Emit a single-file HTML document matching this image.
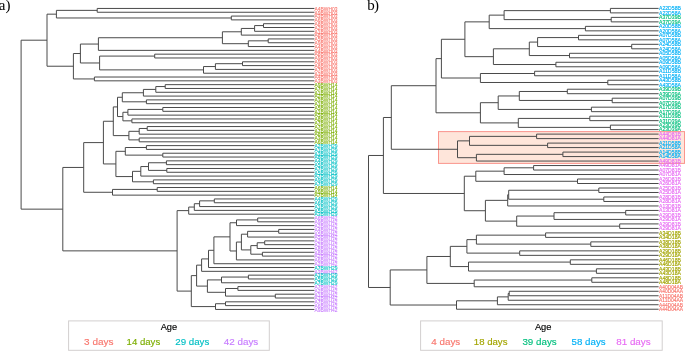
<!DOCTYPE html>
<html><head><meta charset="utf-8"><style>
html,body{margin:0;padding:0;background:#fff;}
body{width:685px;height:351px;overflow:hidden;position:relative;font-family:"Liberation Sans",sans-serif;}
svg{position:absolute;left:0;top:0;will-change:transform;}
.ll{font-family:"Liberation Sans",sans-serif;font-size:5.9px;font-weight:normal;stroke-width:0.12px;}
.rl{font-family:"Liberation Sans",sans-serif;font-size:5.2px;font-weight:normal;stroke-width:0.15px;}
.pl{font-family:"Liberation Serif",serif;font-size:15px;fill:#000;}
.lg{font-family:"Liberation Sans",sans-serif;font-size:9.5px;stroke-width:0.15px;paint-order:stroke;}
</style></head><body>
<svg width="685" height="351" viewBox="0 0 685 351">
<rect x="438.5" y="131.6" width="246.0" height="31.8" fill="#FEE5DA" stroke="rgba(248,118,109,0.75)" stroke-width="1.0"/>
<path d="M314.40 8.45L97.20 8.45L97.20 12.26L314.40 12.26M314.40 16.07L231.30 16.07L231.30 19.88L314.40 19.88M97.20 10.36L56.40 10.36L56.40 17.98L231.30 17.98M314.40 23.69L263.50 23.69L263.50 27.50L314.40 27.50M263.50 25.59L254.60 25.59L254.60 31.31L314.40 31.31M254.60 28.45L241.30 28.45L241.30 35.12L314.40 35.12M314.40 38.93L268.20 38.93L268.20 42.74L314.40 42.74M268.20 40.83L248.30 40.83L248.30 46.55L314.40 46.55M241.30 31.79L222.40 31.79L222.40 43.69L248.30 43.69M222.40 37.74L98.40 37.74L98.40 50.36L314.40 50.36M314.40 54.17L154.70 54.17L154.70 57.98L314.40 57.98M314.40 61.79L242.50 61.79L242.50 65.60L314.40 65.60M242.50 63.70L215.40 63.70L215.40 69.41L314.40 69.41M215.40 66.55L203.50 66.55L203.50 73.22L314.40 73.22M154.70 56.08L99.60 56.08L99.60 69.89L203.50 69.89M98.40 44.05L80.40 44.05L80.40 62.98L99.60 62.98M314.40 77.03L94.40 77.03L94.40 80.84L314.40 80.84M80.40 53.52L73.40 53.52L73.40 78.94L94.40 78.94M56.40 14.17L47.00 14.17L47.00 66.23L73.40 66.23M314.40 84.65L165.20 84.65L165.20 88.46L314.40 88.46M165.20 86.56L155.80 86.56L155.80 92.27L314.40 92.27M155.80 89.41L143.40 89.41L143.40 96.08L314.40 96.08M314.40 99.89L146.40 99.89L146.40 103.70L314.40 103.70M143.40 92.75L122.30 92.75L122.30 101.80L146.40 101.80M314.40 107.51L162.80 107.51L162.80 111.32L314.40 111.32M162.80 109.42L127.90 109.42L127.90 115.13L314.40 115.13M314.40 118.94L131.90 118.94L131.90 122.75L314.40 122.75M127.90 112.27L122.90 112.27L122.90 120.84L131.90 120.84M122.30 97.27L117.50 97.27L117.50 116.56L122.90 116.56M314.40 126.56L147.20 126.56L147.20 130.37L314.40 130.37M147.20 128.47L139.20 128.47L139.20 134.18L314.40 134.18M314.40 137.99L139.20 137.99L139.20 141.80L314.40 141.80M139.20 131.32L128.90 131.32L128.90 139.89L139.20 139.89M117.50 106.91L113.30 106.91L113.30 135.61L128.90 135.61M314.40 145.61L146.40 145.61L146.40 149.42L314.40 149.42M314.40 153.23L162.80 153.23L162.80 157.04L314.40 157.04M146.40 147.51L125.30 147.51L125.30 155.13L162.80 155.13M314.40 160.85L166.40 160.85L166.40 164.66L314.40 164.66M314.40 168.47L166.80 168.47L166.80 172.28L314.40 172.28M166.40 162.75L148.50 162.75L148.50 170.38L166.80 170.38M148.50 166.56L140.80 166.56L140.80 176.09L314.40 176.09M314.40 179.90L153.40 179.90L153.40 183.71L314.40 183.71M140.80 171.33L132.50 171.33L132.50 181.80L153.40 181.80M125.30 151.32L115.90 151.32L115.90 176.57L132.50 176.57M113.30 121.26L103.40 121.26L103.40 163.95L115.90 163.95M314.40 187.52L157.20 187.52L157.20 191.33L314.40 191.33M157.20 189.42L112.50 189.42L112.50 195.14L314.40 195.14M103.40 142.60L83.70 142.60L83.70 192.28L112.50 192.28M314.40 198.95L214.30 198.95L214.30 202.76L314.40 202.76M214.30 200.85L199.60 200.85L199.60 206.57L314.40 206.57M199.60 203.71L194.30 203.71L194.30 210.38L314.40 210.38M194.30 207.05L188.70 207.05L188.70 214.19L314.40 214.19M314.40 218.00L257.70 218.00L257.70 221.81L314.40 221.81M257.70 219.91L236.50 219.91L236.50 225.62L314.40 225.62M314.40 229.43L278.70 229.43L278.70 233.24L314.40 233.24M278.70 231.33L247.60 231.33L247.60 237.05L314.40 237.05M314.40 240.86L264.70 240.86L264.70 244.67L314.40 244.67M264.70 242.76L257.20 242.76L257.20 248.48L314.40 248.48M314.40 252.29L262.40 252.29L262.40 256.10L314.40 256.10M257.20 245.62L250.80 245.62L250.80 254.19L262.40 254.19M247.60 234.19L241.40 234.19L241.40 249.91L250.80 249.91M241.40 242.05L236.40 242.05L236.40 259.91L314.40 259.91M236.50 222.76L230.00 222.76L230.00 250.98L236.40 250.98M230.00 236.87L213.90 236.87L213.90 263.72L314.40 263.72M213.90 250.30L208.50 250.30L208.50 267.53L314.40 267.53M208.50 258.91L201.60 258.91L201.60 271.34L314.40 271.34M314.40 275.15L248.40 275.15L248.40 278.96L314.40 278.96M248.40 277.05L221.50 277.05L221.50 282.77L314.40 282.77M314.40 286.58L237.90 286.58L237.90 290.39L314.40 290.39M314.40 294.20L275.30 294.20L275.30 298.01L314.40 298.01M237.90 288.49L225.50 288.49L225.50 296.11L275.30 296.11M221.50 279.91L207.40 279.91L207.40 292.30L225.50 292.30M201.60 265.13L196.60 265.13L196.60 286.10L207.40 286.10M314.40 301.82L225.50 301.82L225.50 305.63L314.40 305.63M225.50 303.73L215.50 303.73L215.50 309.44L314.40 309.44M196.60 275.62L191.30 275.62L191.30 306.58L215.50 306.58M188.70 210.62L177.10 210.62L177.10 291.10L191.30 291.10M83.70 167.44L62.80 167.44L62.80 250.86L177.10 250.86M47.00 40.20L21.10 40.20L21.10 209.15L62.80 209.15" stroke="#4a4a4a" stroke-width="1.0" fill="none" stroke-linecap="butt" stroke-linejoin="miter"/>
<path d="M658.60 8.40L610.40 8.40L610.40 12.89L658.60 12.89M658.60 17.38L611.20 17.38L611.20 21.87L658.60 21.87M610.40 10.64L504.10 10.64L504.10 19.62L611.20 19.62M658.60 26.36L585.40 26.36L585.40 30.85L658.60 30.85M504.10 15.13L489.20 15.13L489.20 28.61L585.40 28.61M658.60 35.34L578.50 35.34L578.50 39.83L658.60 39.83M658.60 44.32L631.70 44.32L631.70 48.81L658.60 48.81M578.50 37.59L537.60 37.59L537.60 46.56L631.70 46.56M658.60 53.30L569.50 53.30L569.50 57.79L658.60 57.79M537.60 42.08L529.30 42.08L529.30 55.55L569.50 55.55M658.60 62.28L555.90 62.28L555.90 66.77L658.60 66.77M529.30 48.81L493.40 48.81L493.40 64.53L555.90 64.53M489.20 21.87L464.90 21.87L464.90 56.67L493.40 56.67M658.60 71.26L534.60 71.26L534.60 75.75L658.60 75.75M658.60 80.24L607.80 80.24L607.80 84.73L658.60 84.73M534.60 73.51L480.40 73.51L480.40 82.49L607.80 82.49M464.90 39.27L441.40 39.27L441.40 78.00L480.40 78.00M658.60 89.22L567.30 89.22L567.30 93.71L658.60 93.71M658.60 98.20L612.20 98.20L612.20 102.69L658.60 102.69M567.30 91.47L519.30 91.47L519.30 100.45L612.20 100.45M658.60 107.18L591.40 107.18L591.40 111.67L658.60 111.67M519.30 95.96L498.20 95.96L498.20 109.43L591.40 109.43M658.60 116.16L589.80 116.16L589.80 120.65L658.60 120.65M658.60 125.14L610.40 125.14L610.40 129.63L658.60 129.63M589.80 118.41L518.30 118.41L518.30 127.39L610.40 127.39M498.20 102.69L480.40 102.69L480.40 122.90L518.30 122.90M441.40 58.63L436.00 58.63L436.00 112.79L480.40 112.79M658.60 134.12L536.60 134.12L536.60 138.61L658.60 138.61M658.60 143.10L547.60 143.10L547.60 147.59L658.60 147.59M536.60 136.37L469.50 136.37L469.50 145.35L547.60 145.35M658.60 152.08L562.90 152.08L562.90 156.57L658.60 156.57M562.90 154.33L476.40 154.33L476.40 161.06L658.60 161.06M469.50 140.86L457.50 140.86L457.50 157.69L476.40 157.69M436.00 85.71L391.30 85.71L391.30 149.27L457.50 149.27M658.60 165.55L533.60 165.55L533.60 170.04L658.60 170.04M533.60 167.80L504.10 167.80L504.10 174.53L658.60 174.53M658.60 179.02L577.50 179.02L577.50 183.51L658.60 183.51M504.10 171.16L475.80 171.16L475.80 181.27L577.50 181.27M658.60 188.00L598.80 188.00L598.80 192.49L658.60 192.49M658.60 196.98L603.80 196.98L603.80 201.47L658.60 201.47M598.80 190.25L508.70 190.25L508.70 199.23L603.80 199.23M508.70 194.74L507.70 194.74L507.70 205.96L658.60 205.96M658.60 210.45L625.70 210.45L625.70 214.94L658.60 214.94M625.70 212.70L554.00 212.70L554.00 219.43L658.60 219.43M658.60 223.92L619.70 223.92L619.70 228.41L658.60 228.41M554.00 216.06L516.70 216.06L516.70 226.17L619.70 226.17M507.70 200.35L485.40 200.35L485.40 221.11L516.70 221.11M475.80 176.21L464.30 176.21L464.30 210.73L485.40 210.73M391.30 117.49L383.40 117.49L383.40 193.47L464.30 193.47M658.60 232.90L545.60 232.90L545.60 237.39L658.60 237.39M658.60 241.88L590.80 241.88L590.80 246.37L658.60 246.37M545.60 235.15L476.40 235.15L476.40 244.12L590.80 244.12M658.60 250.86L519.70 250.86L519.70 255.35L658.60 255.35M476.40 239.63L466.90 239.63L466.90 253.11L519.70 253.11M658.60 259.84L570.30 259.84L570.30 264.33L658.60 264.33M658.60 268.82L596.40 268.82L596.40 273.31L658.60 273.31M570.30 262.08L468.50 262.08L468.50 271.06L596.40 271.06M466.90 246.37L450.30 246.37L450.30 266.57L468.50 266.57M658.60 277.80L591.80 277.80L591.80 282.29L658.60 282.29M591.80 280.04L474.20 280.04L474.20 286.78L658.60 286.78M450.30 256.47L426.90 256.47L426.90 283.41L474.20 283.41M658.60 291.27L509.20 291.27L509.20 295.76L658.60 295.76M509.20 293.51L508.20 293.51L508.20 300.25L658.60 300.25M508.20 296.88L497.40 296.88L497.40 304.74L658.60 304.74M497.40 300.81L456.50 300.81L456.50 309.23L658.60 309.23M426.90 269.94L390.20 269.94L390.20 305.02L456.50 305.02M383.40 155.48L368.50 155.48L368.50 287.48L390.20 287.48" stroke="#4a4a4a" stroke-width="1.0" fill="none" stroke-linecap="butt" stroke-linejoin="miter"/>
<text x="314.60" y="10.75" fill="#F8766D" class="ll" stroke="#F8766D" textLength="22.9" lengthAdjust="spacingAndGlyphs">A4BWH03</text>
<text x="314.60" y="14.56" fill="#F8766D" class="ll" stroke="#F8766D" textLength="22.9" lengthAdjust="spacingAndGlyphs">A9BWH03</text>
<text x="314.60" y="18.37" fill="#F8766D" class="ll" stroke="#F8766D" textLength="22.9" lengthAdjust="spacingAndGlyphs">A3BWH03</text>
<text x="314.60" y="22.18" fill="#F8766D" class="ll" stroke="#F8766D" textLength="22.9" lengthAdjust="spacingAndGlyphs">A6BWH03</text>
<text x="314.60" y="25.99" fill="#F8766D" class="ll" stroke="#F8766D" textLength="22.9" lengthAdjust="spacingAndGlyphs">A8BWH03</text>
<text x="314.60" y="29.80" fill="#F8766D" class="ll" stroke="#F8766D" textLength="22.9" lengthAdjust="spacingAndGlyphs">A2BWH03</text>
<text x="314.60" y="33.61" fill="#F8766D" class="ll" stroke="#F8766D" textLength="22.9" lengthAdjust="spacingAndGlyphs">A1BWH03</text>
<text x="314.60" y="37.42" fill="#F8766D" class="ll" stroke="#F8766D" textLength="22.9" lengthAdjust="spacingAndGlyphs">A8BWH03</text>
<text x="314.60" y="41.23" fill="#F8766D" class="ll" stroke="#F8766D" textLength="22.9" lengthAdjust="spacingAndGlyphs">A5BWH03</text>
<text x="314.60" y="45.04" fill="#F8766D" class="ll" stroke="#F8766D" textLength="22.9" lengthAdjust="spacingAndGlyphs">A9BWH03</text>
<text x="314.60" y="48.85" fill="#F8766D" class="ll" stroke="#F8766D" textLength="22.9" lengthAdjust="spacingAndGlyphs">A4BWH03</text>
<text x="314.60" y="52.66" fill="#F8766D" class="ll" stroke="#F8766D" textLength="22.9" lengthAdjust="spacingAndGlyphs">A4BWH03</text>
<text x="314.60" y="56.47" fill="#F8766D" class="ll" stroke="#F8766D" textLength="22.9" lengthAdjust="spacingAndGlyphs">A8BWH03</text>
<text x="314.60" y="60.28" fill="#F8766D" class="ll" stroke="#F8766D" textLength="22.9" lengthAdjust="spacingAndGlyphs">A9BWH03</text>
<text x="314.60" y="64.09" fill="#F8766D" class="ll" stroke="#F8766D" textLength="22.9" lengthAdjust="spacingAndGlyphs">A9BWH03</text>
<text x="314.60" y="67.90" fill="#F8766D" class="ll" stroke="#F8766D" textLength="22.9" lengthAdjust="spacingAndGlyphs">A8BWH03</text>
<text x="314.60" y="71.71" fill="#F8766D" class="ll" stroke="#F8766D" textLength="22.9" lengthAdjust="spacingAndGlyphs">A7BWH03</text>
<text x="314.60" y="75.52" fill="#F8766D" class="ll" stroke="#F8766D" textLength="22.9" lengthAdjust="spacingAndGlyphs">A3BWH03</text>
<text x="314.60" y="79.33" fill="#F8766D" class="ll" stroke="#F8766D" textLength="22.9" lengthAdjust="spacingAndGlyphs">A4BWH03</text>
<text x="314.60" y="83.14" fill="#F8766D" class="ll" stroke="#F8766D" textLength="22.9" lengthAdjust="spacingAndGlyphs">A3BWH03</text>
<text x="314.60" y="86.95" fill="#7CAE00" class="ll" stroke="#7CAE00" textLength="22.9" lengthAdjust="spacingAndGlyphs">A9BWH14</text>
<text x="314.60" y="90.76" fill="#7CAE00" class="ll" stroke="#7CAE00" textLength="22.9" lengthAdjust="spacingAndGlyphs">A7BWH14</text>
<text x="314.60" y="94.57" fill="#7CAE00" class="ll" stroke="#7CAE00" textLength="22.9" lengthAdjust="spacingAndGlyphs">A1BWH14</text>
<text x="314.60" y="98.38" fill="#7CAE00" class="ll" stroke="#7CAE00" textLength="22.9" lengthAdjust="spacingAndGlyphs">A2BWH14</text>
<text x="314.60" y="102.19" fill="#7CAE00" class="ll" stroke="#7CAE00" textLength="22.9" lengthAdjust="spacingAndGlyphs">A3BWH14</text>
<text x="314.60" y="106.00" fill="#7CAE00" class="ll" stroke="#7CAE00" textLength="22.9" lengthAdjust="spacingAndGlyphs">A1BWH14</text>
<text x="314.60" y="109.81" fill="#7CAE00" class="ll" stroke="#7CAE00" textLength="22.9" lengthAdjust="spacingAndGlyphs">A5BWH14</text>
<text x="314.60" y="113.62" fill="#7CAE00" class="ll" stroke="#7CAE00" textLength="22.9" lengthAdjust="spacingAndGlyphs">A1BWH14</text>
<text x="314.60" y="117.43" fill="#7CAE00" class="ll" stroke="#7CAE00" textLength="22.9" lengthAdjust="spacingAndGlyphs">A5BWH14</text>
<text x="314.60" y="121.24" fill="#7CAE00" class="ll" stroke="#7CAE00" textLength="22.9" lengthAdjust="spacingAndGlyphs">A8BWH14</text>
<text x="314.60" y="125.05" fill="#7CAE00" class="ll" stroke="#7CAE00" textLength="22.9" lengthAdjust="spacingAndGlyphs">A7BWH14</text>
<text x="314.60" y="128.86" fill="#7CAE00" class="ll" stroke="#7CAE00" textLength="22.9" lengthAdjust="spacingAndGlyphs">A7BWH14</text>
<text x="314.60" y="132.67" fill="#7CAE00" class="ll" stroke="#7CAE00" textLength="22.9" lengthAdjust="spacingAndGlyphs">A7BWH14</text>
<text x="314.60" y="136.48" fill="#7CAE00" class="ll" stroke="#7CAE00" textLength="22.9" lengthAdjust="spacingAndGlyphs">A8BWH14</text>
<text x="314.60" y="140.29" fill="#7CAE00" class="ll" stroke="#7CAE00" textLength="22.9" lengthAdjust="spacingAndGlyphs">A3BWH14</text>
<text x="314.60" y="144.10" fill="#7CAE00" class="ll" stroke="#7CAE00" textLength="22.9" lengthAdjust="spacingAndGlyphs">A6BWH14</text>
<text x="314.60" y="147.91" fill="#00BFC4" class="ll" stroke="#00BFC4" textLength="22.9" lengthAdjust="spacingAndGlyphs">A2BWH29</text>
<text x="314.60" y="151.72" fill="#00BFC4" class="ll" stroke="#00BFC4" textLength="22.9" lengthAdjust="spacingAndGlyphs">A1BWH29</text>
<text x="314.60" y="155.53" fill="#00BFC4" class="ll" stroke="#00BFC4" textLength="22.9" lengthAdjust="spacingAndGlyphs">A3BWH29</text>
<text x="314.60" y="159.34" fill="#00BFC4" class="ll" stroke="#00BFC4" textLength="22.9" lengthAdjust="spacingAndGlyphs">A8BWH29</text>
<text x="314.60" y="163.15" fill="#00BFC4" class="ll" stroke="#00BFC4" textLength="22.9" lengthAdjust="spacingAndGlyphs">A4BWH29</text>
<text x="314.60" y="166.96" fill="#00BFC4" class="ll" stroke="#00BFC4" textLength="22.9" lengthAdjust="spacingAndGlyphs">A5BWH29</text>
<text x="314.60" y="170.77" fill="#00BFC4" class="ll" stroke="#00BFC4" textLength="22.9" lengthAdjust="spacingAndGlyphs">A7BWH29</text>
<text x="314.60" y="174.58" fill="#00BFC4" class="ll" stroke="#00BFC4" textLength="22.9" lengthAdjust="spacingAndGlyphs">A5BWH29</text>
<text x="314.60" y="178.39" fill="#00BFC4" class="ll" stroke="#00BFC4" textLength="22.9" lengthAdjust="spacingAndGlyphs">A7BWH29</text>
<text x="314.60" y="182.20" fill="#00BFC4" class="ll" stroke="#00BFC4" textLength="22.9" lengthAdjust="spacingAndGlyphs">A9BWH29</text>
<text x="314.60" y="186.01" fill="#00BFC4" class="ll" stroke="#00BFC4" textLength="22.9" lengthAdjust="spacingAndGlyphs">A7BWH29</text>
<text x="314.60" y="189.82" fill="#7CAE00" class="ll" stroke="#7CAE00" textLength="22.9" lengthAdjust="spacingAndGlyphs">A6BWH14</text>
<text x="314.60" y="193.63" fill="#7CAE00" class="ll" stroke="#7CAE00" textLength="22.9" lengthAdjust="spacingAndGlyphs">A9BWH14</text>
<text x="314.60" y="197.44" fill="#7CAE00" class="ll" stroke="#7CAE00" textLength="22.9" lengthAdjust="spacingAndGlyphs">A7BWH14</text>
<text x="314.60" y="201.25" fill="#00BFC4" class="ll" stroke="#00BFC4" textLength="22.9" lengthAdjust="spacingAndGlyphs">A4BWH29</text>
<text x="314.60" y="205.06" fill="#00BFC4" class="ll" stroke="#00BFC4" textLength="22.9" lengthAdjust="spacingAndGlyphs">A6BWH29</text>
<text x="314.60" y="208.87" fill="#00BFC4" class="ll" stroke="#00BFC4" textLength="22.9" lengthAdjust="spacingAndGlyphs">A1BWH29</text>
<text x="314.60" y="212.68" fill="#00BFC4" class="ll" stroke="#00BFC4" textLength="22.9" lengthAdjust="spacingAndGlyphs">A5BWH29</text>
<text x="314.60" y="216.49" fill="#00BFC4" class="ll" stroke="#00BFC4" textLength="22.9" lengthAdjust="spacingAndGlyphs">A3BWH29</text>
<text x="314.60" y="220.30" fill="#C77CFF" class="ll" stroke="#C77CFF" textLength="22.9" lengthAdjust="spacingAndGlyphs">A6BWH42</text>
<text x="314.60" y="224.11" fill="#C77CFF" class="ll" stroke="#C77CFF" textLength="22.9" lengthAdjust="spacingAndGlyphs">A9BWH42</text>
<text x="314.60" y="227.92" fill="#C77CFF" class="ll" stroke="#C77CFF" textLength="22.9" lengthAdjust="spacingAndGlyphs">A2BWH42</text>
<text x="314.60" y="231.73" fill="#C77CFF" class="ll" stroke="#C77CFF" textLength="22.9" lengthAdjust="spacingAndGlyphs">A4BWH42</text>
<text x="314.60" y="235.54" fill="#C77CFF" class="ll" stroke="#C77CFF" textLength="22.9" lengthAdjust="spacingAndGlyphs">A5BWH42</text>
<text x="314.60" y="239.35" fill="#C77CFF" class="ll" stroke="#C77CFF" textLength="22.9" lengthAdjust="spacingAndGlyphs">A5BWH42</text>
<text x="314.60" y="243.16" fill="#C77CFF" class="ll" stroke="#C77CFF" textLength="22.9" lengthAdjust="spacingAndGlyphs">A2BWH42</text>
<text x="314.60" y="246.97" fill="#C77CFF" class="ll" stroke="#C77CFF" textLength="22.9" lengthAdjust="spacingAndGlyphs">A2BWH42</text>
<text x="314.60" y="250.78" fill="#C77CFF" class="ll" stroke="#C77CFF" textLength="22.9" lengthAdjust="spacingAndGlyphs">A8BWH42</text>
<text x="314.60" y="254.59" fill="#C77CFF" class="ll" stroke="#C77CFF" textLength="22.9" lengthAdjust="spacingAndGlyphs">A8BWH42</text>
<text x="314.60" y="258.40" fill="#C77CFF" class="ll" stroke="#C77CFF" textLength="22.9" lengthAdjust="spacingAndGlyphs">A2BWH42</text>
<text x="314.60" y="262.21" fill="#C77CFF" class="ll" stroke="#C77CFF" textLength="22.9" lengthAdjust="spacingAndGlyphs">A6BWH42</text>
<text x="314.60" y="266.02" fill="#C77CFF" class="ll" stroke="#C77CFF" textLength="22.9" lengthAdjust="spacingAndGlyphs">A2BWH42</text>
<text x="314.60" y="269.83" fill="#00BFC4" class="ll" stroke="#00BFC4" textLength="22.9" lengthAdjust="spacingAndGlyphs">A7BWH29</text>
<text x="314.60" y="273.64" fill="#C77CFF" class="ll" stroke="#C77CFF" textLength="22.9" lengthAdjust="spacingAndGlyphs">A3BWH42</text>
<text x="314.60" y="277.45" fill="#00BFC4" class="ll" stroke="#00BFC4" textLength="22.9" lengthAdjust="spacingAndGlyphs">A1BWH29</text>
<text x="314.60" y="281.26" fill="#00BFC4" class="ll" stroke="#00BFC4" textLength="22.9" lengthAdjust="spacingAndGlyphs">A5BWH29</text>
<text x="314.60" y="285.07" fill="#00BFC4" class="ll" stroke="#00BFC4" textLength="22.9" lengthAdjust="spacingAndGlyphs">A7BWH29</text>
<text x="314.60" y="288.88" fill="#C77CFF" class="ll" stroke="#C77CFF" textLength="22.9" lengthAdjust="spacingAndGlyphs">A7BWH42</text>
<text x="314.60" y="292.69" fill="#C77CFF" class="ll" stroke="#C77CFF" textLength="22.9" lengthAdjust="spacingAndGlyphs">A2BWH42</text>
<text x="314.60" y="296.50" fill="#C77CFF" class="ll" stroke="#C77CFF" textLength="22.9" lengthAdjust="spacingAndGlyphs">A1BWH42</text>
<text x="314.60" y="300.31" fill="#C77CFF" class="ll" stroke="#C77CFF" textLength="22.9" lengthAdjust="spacingAndGlyphs">A1BWH42</text>
<text x="314.60" y="304.12" fill="#C77CFF" class="ll" stroke="#C77CFF" textLength="22.9" lengthAdjust="spacingAndGlyphs">A7BWH42</text>
<text x="314.60" y="307.93" fill="#C77CFF" class="ll" stroke="#C77CFF" textLength="22.9" lengthAdjust="spacingAndGlyphs">A6BWH42</text>
<text x="314.60" y="311.74" fill="#C77CFF" class="ll" stroke="#C77CFF" textLength="22.9" lengthAdjust="spacingAndGlyphs">A9BWH42</text>
<text x="659.00" y="10.25" fill="#00B0F6" class="rl" stroke="#00B0F6" textLength="21.9" lengthAdjust="spacingAndGlyphs">A22D58B</text>
<text x="659.00" y="14.74" fill="#00B0F6" class="rl" stroke="#00B0F6" textLength="21.9" lengthAdjust="spacingAndGlyphs">A22D58A</text>
<text x="659.00" y="19.23" fill="#00BF7D" class="rl" stroke="#00BF7D" textLength="21.9" lengthAdjust="spacingAndGlyphs">A37D39B</text>
<text x="659.00" y="23.72" fill="#00BF7D" class="rl" stroke="#00BF7D" textLength="21.9" lengthAdjust="spacingAndGlyphs">A37D39A</text>
<text x="659.00" y="28.21" fill="#00B0F6" class="rl" stroke="#00B0F6" textLength="21.9" lengthAdjust="spacingAndGlyphs">A20D58B</text>
<text x="659.00" y="32.70" fill="#00B0F6" class="rl" stroke="#00B0F6" textLength="21.9" lengthAdjust="spacingAndGlyphs">A20D58A</text>
<text x="659.00" y="37.19" fill="#00B0F6" class="rl" stroke="#00B0F6" textLength="21.9" lengthAdjust="spacingAndGlyphs">A07D58B</text>
<text x="659.00" y="41.68" fill="#00B0F6" class="rl" stroke="#00B0F6" textLength="21.9" lengthAdjust="spacingAndGlyphs">A07D58A</text>
<text x="659.00" y="46.17" fill="#00B0F6" class="rl" stroke="#00B0F6" textLength="21.9" lengthAdjust="spacingAndGlyphs">A24D58B</text>
<text x="659.00" y="50.66" fill="#00B0F6" class="rl" stroke="#00B0F6" textLength="21.9" lengthAdjust="spacingAndGlyphs">A24D58A</text>
<text x="659.00" y="55.15" fill="#00B0F6" class="rl" stroke="#00B0F6" textLength="21.9" lengthAdjust="spacingAndGlyphs">A05D58B</text>
<text x="659.00" y="59.64" fill="#00B0F6" class="rl" stroke="#00B0F6" textLength="21.9" lengthAdjust="spacingAndGlyphs">A05D58A</text>
<text x="659.00" y="64.13" fill="#00B0F6" class="rl" stroke="#00B0F6" textLength="21.9" lengthAdjust="spacingAndGlyphs">A09D58B</text>
<text x="659.00" y="68.62" fill="#00B0F6" class="rl" stroke="#00B0F6" textLength="21.9" lengthAdjust="spacingAndGlyphs">A09D58A</text>
<text x="659.00" y="73.11" fill="#00B0F6" class="rl" stroke="#00B0F6" textLength="21.9" lengthAdjust="spacingAndGlyphs">A11D58B</text>
<text x="659.00" y="77.60" fill="#00B0F6" class="rl" stroke="#00B0F6" textLength="21.9" lengthAdjust="spacingAndGlyphs">A11D58A</text>
<text x="659.00" y="82.09" fill="#00B0F6" class="rl" stroke="#00B0F6" textLength="21.9" lengthAdjust="spacingAndGlyphs">A43D58B</text>
<text x="659.00" y="86.58" fill="#00B0F6" class="rl" stroke="#00B0F6" textLength="21.9" lengthAdjust="spacingAndGlyphs">A43D58A</text>
<text x="659.00" y="91.07" fill="#00BF7D" class="rl" stroke="#00BF7D" textLength="21.9" lengthAdjust="spacingAndGlyphs">A39D39B</text>
<text x="659.00" y="95.56" fill="#00BF7D" class="rl" stroke="#00BF7D" textLength="21.9" lengthAdjust="spacingAndGlyphs">A39D39A</text>
<text x="659.00" y="100.05" fill="#00BF7D" class="rl" stroke="#00BF7D" textLength="21.9" lengthAdjust="spacingAndGlyphs">A07D39B</text>
<text x="659.00" y="104.54" fill="#00BF7D" class="rl" stroke="#00BF7D" textLength="21.9" lengthAdjust="spacingAndGlyphs">A07D39A</text>
<text x="659.00" y="109.03" fill="#00BF7D" class="rl" stroke="#00BF7D" textLength="21.9" lengthAdjust="spacingAndGlyphs">A17D39B</text>
<text x="659.00" y="113.52" fill="#00BF7D" class="rl" stroke="#00BF7D" textLength="21.9" lengthAdjust="spacingAndGlyphs">A17D39A</text>
<text x="659.00" y="118.01" fill="#00BF7D" class="rl" stroke="#00BF7D" textLength="21.9" lengthAdjust="spacingAndGlyphs">A31D39B</text>
<text x="659.00" y="122.50" fill="#00BF7D" class="rl" stroke="#00BF7D" textLength="21.9" lengthAdjust="spacingAndGlyphs">A31D39A</text>
<text x="659.00" y="126.99" fill="#00BF7D" class="rl" stroke="#00BF7D" textLength="21.9" lengthAdjust="spacingAndGlyphs">A23D39B</text>
<text x="659.00" y="131.48" fill="#00BF7D" class="rl" stroke="#00BF7D" textLength="21.9" lengthAdjust="spacingAndGlyphs">A23D39A</text>
<text x="659.00" y="135.97" fill="#E76BF3" class="rl" stroke="#E76BF3" textLength="21.9" lengthAdjust="spacingAndGlyphs">A44D81B</text>
<text x="659.00" y="140.46" fill="#E76BF3" class="rl" stroke="#E76BF3" textLength="21.9" lengthAdjust="spacingAndGlyphs">A44D81A</text>
<text x="659.00" y="144.95" fill="#00B0F6" class="rl" stroke="#00B0F6" textLength="21.9" lengthAdjust="spacingAndGlyphs">A21D58B</text>
<text x="659.00" y="149.44" fill="#00B0F6" class="rl" stroke="#00B0F6" textLength="21.9" lengthAdjust="spacingAndGlyphs">A21D58A</text>
<text x="659.00" y="153.93" fill="#00B0F6" class="rl" stroke="#00B0F6" textLength="21.9" lengthAdjust="spacingAndGlyphs">A14D58B</text>
<text x="659.00" y="158.42" fill="#00B0F6" class="rl" stroke="#00B0F6" textLength="21.9" lengthAdjust="spacingAndGlyphs">A14D58A</text>
<text x="659.00" y="162.91" fill="#E76BF3" class="rl" stroke="#E76BF3" textLength="21.9" lengthAdjust="spacingAndGlyphs">A49D81B</text>
<text x="659.00" y="167.40" fill="#E76BF3" class="rl" stroke="#E76BF3" textLength="21.9" lengthAdjust="spacingAndGlyphs">A49D81A</text>
<text x="659.00" y="171.89" fill="#E76BF3" class="rl" stroke="#E76BF3" textLength="21.9" lengthAdjust="spacingAndGlyphs">A07D81B</text>
<text x="659.00" y="176.38" fill="#E76BF3" class="rl" stroke="#E76BF3" textLength="21.9" lengthAdjust="spacingAndGlyphs">A07D81A</text>
<text x="659.00" y="180.87" fill="#E76BF3" class="rl" stroke="#E76BF3" textLength="21.9" lengthAdjust="spacingAndGlyphs">A26D81B</text>
<text x="659.00" y="185.36" fill="#E76BF3" class="rl" stroke="#E76BF3" textLength="21.9" lengthAdjust="spacingAndGlyphs">A26D81A</text>
<text x="659.00" y="189.85" fill="#E76BF3" class="rl" stroke="#E76BF3" textLength="21.9" lengthAdjust="spacingAndGlyphs">A25D81B</text>
<text x="659.00" y="194.34" fill="#E76BF3" class="rl" stroke="#E76BF3" textLength="21.9" lengthAdjust="spacingAndGlyphs">A25D81A</text>
<text x="659.00" y="198.83" fill="#E76BF3" class="rl" stroke="#E76BF3" textLength="21.9" lengthAdjust="spacingAndGlyphs">A28D81B</text>
<text x="659.00" y="203.32" fill="#E76BF3" class="rl" stroke="#E76BF3" textLength="21.9" lengthAdjust="spacingAndGlyphs">A28D81A</text>
<text x="659.00" y="207.81" fill="#E76BF3" class="rl" stroke="#E76BF3" textLength="21.9" lengthAdjust="spacingAndGlyphs">A13D81B</text>
<text x="659.00" y="212.30" fill="#E76BF3" class="rl" stroke="#E76BF3" textLength="21.9" lengthAdjust="spacingAndGlyphs">A13D81A</text>
<text x="659.00" y="216.79" fill="#E76BF3" class="rl" stroke="#E76BF3" textLength="21.9" lengthAdjust="spacingAndGlyphs">A29D81B</text>
<text x="659.00" y="221.28" fill="#E76BF3" class="rl" stroke="#E76BF3" textLength="21.9" lengthAdjust="spacingAndGlyphs">A29D81A</text>
<text x="659.00" y="225.77" fill="#E76BF3" class="rl" stroke="#E76BF3" textLength="21.9" lengthAdjust="spacingAndGlyphs">A29D81B</text>
<text x="659.00" y="230.26" fill="#E76BF3" class="rl" stroke="#E76BF3" textLength="21.9" lengthAdjust="spacingAndGlyphs">A29D81A</text>
<text x="659.00" y="234.75" fill="#A3A500" class="rl" stroke="#A3A500" textLength="21.9" lengthAdjust="spacingAndGlyphs">A34D18B</text>
<text x="659.00" y="239.24" fill="#A3A500" class="rl" stroke="#A3A500" textLength="21.9" lengthAdjust="spacingAndGlyphs">A34D18A</text>
<text x="659.00" y="243.73" fill="#A3A500" class="rl" stroke="#A3A500" textLength="21.9" lengthAdjust="spacingAndGlyphs">A38D18B</text>
<text x="659.00" y="248.22" fill="#A3A500" class="rl" stroke="#A3A500" textLength="21.9" lengthAdjust="spacingAndGlyphs">A38D18A</text>
<text x="659.00" y="252.71" fill="#A3A500" class="rl" stroke="#A3A500" textLength="21.9" lengthAdjust="spacingAndGlyphs">A29D18B</text>
<text x="659.00" y="257.20" fill="#A3A500" class="rl" stroke="#A3A500" textLength="21.9" lengthAdjust="spacingAndGlyphs">A29D18A</text>
<text x="659.00" y="261.69" fill="#A3A500" class="rl" stroke="#A3A500" textLength="21.9" lengthAdjust="spacingAndGlyphs">A46D18B</text>
<text x="659.00" y="266.18" fill="#A3A500" class="rl" stroke="#A3A500" textLength="21.9" lengthAdjust="spacingAndGlyphs">A46D18A</text>
<text x="659.00" y="270.67" fill="#A3A500" class="rl" stroke="#A3A500" textLength="21.9" lengthAdjust="spacingAndGlyphs">A43D18B</text>
<text x="659.00" y="275.16" fill="#A3A500" class="rl" stroke="#A3A500" textLength="21.9" lengthAdjust="spacingAndGlyphs">A43D18A</text>
<text x="659.00" y="279.65" fill="#A3A500" class="rl" stroke="#A3A500" textLength="21.9" lengthAdjust="spacingAndGlyphs">A48D18B</text>
<text x="659.00" y="284.14" fill="#A3A500" class="rl" stroke="#A3A500" textLength="21.9" lengthAdjust="spacingAndGlyphs">A48D18A</text>
<text x="659.00" y="288.63" fill="#F8766D" class="rl" stroke="#F8766D" textLength="24.0" lengthAdjust="spacingAndGlyphs">A40D04AB</text>
<text x="659.00" y="293.12" fill="#F8766D" class="rl" stroke="#F8766D" textLength="24.0" lengthAdjust="spacingAndGlyphs">A40D04AA</text>
<text x="659.00" y="297.61" fill="#F8766D" class="rl" stroke="#F8766D" textLength="24.0" lengthAdjust="spacingAndGlyphs">A11D04AB</text>
<text x="659.00" y="302.10" fill="#F8766D" class="rl" stroke="#F8766D" textLength="24.0" lengthAdjust="spacingAndGlyphs">A11D04AA</text>
<text x="659.00" y="306.59" fill="#F8766D" class="rl" stroke="#F8766D" textLength="24.0" lengthAdjust="spacingAndGlyphs">A44D04AB</text>
<text x="659.00" y="311.08" fill="#F8766D" class="rl" stroke="#F8766D" textLength="24.0" lengthAdjust="spacingAndGlyphs">A44D04AA</text>
<text x="-1.2" y="9.7" class="pl">a)</text>
<text x="367.2" y="9.7" class="pl">b</text><text x="374.0" y="9.7" class="pl">)</text>
<rect x="68.6" y="320.9" width="200.7" height="29.4" fill="#fff" stroke="#d2cfcf" stroke-width="1"/><text x="160.7" y="330.2" class="lg" fill="#000" stroke="#000" textLength="16.5" lengthAdjust="spacingAndGlyphs">Age</text><text x="84.1" y="344.5" class="lg" fill="#F8766D" stroke="#F8766D" textLength="29.4" lengthAdjust="spacingAndGlyphs">3 days</text><text x="126.6" y="344.5" class="lg" fill="#7CAE00" stroke="#7CAE00" textLength="33.6" lengthAdjust="spacingAndGlyphs">14 days</text><text x="175.3" y="344.5" class="lg" fill="#00BFC4" stroke="#00BFC4" textLength="34.0" lengthAdjust="spacingAndGlyphs">29 days</text><text x="223.8" y="344.5" class="lg" fill="#C77CFF" stroke="#C77CFF" textLength="34.5" lengthAdjust="spacingAndGlyphs">42 days</text><rect x="420.6" y="320.9" width="241.6" height="29.4" fill="#fff" stroke="#d2cfcf" stroke-width="1"/><text x="534.9" y="330.2" class="lg" fill="#000" stroke="#000" textLength="16.6" lengthAdjust="spacingAndGlyphs">Age</text><text x="431.3" y="344.5" class="lg" fill="#F8766D" stroke="#F8766D" textLength="28.9" lengthAdjust="spacingAndGlyphs">4 days</text><text x="473.8" y="344.5" class="lg" fill="#A3A500" stroke="#A3A500" textLength="33.7" lengthAdjust="spacingAndGlyphs">18 days</text><text x="522.4" y="344.5" class="lg" fill="#00BF7D" stroke="#00BF7D" textLength="34.3" lengthAdjust="spacingAndGlyphs">39 days</text><text x="571.6" y="344.5" class="lg" fill="#00B0F6" stroke="#00B0F6" textLength="34.0" lengthAdjust="spacingAndGlyphs">58 days</text><text x="616.2" y="344.5" class="lg" fill="#E76BF3" stroke="#E76BF3" textLength="34.5" lengthAdjust="spacingAndGlyphs">81 days</text>
</svg>
</body></html>
